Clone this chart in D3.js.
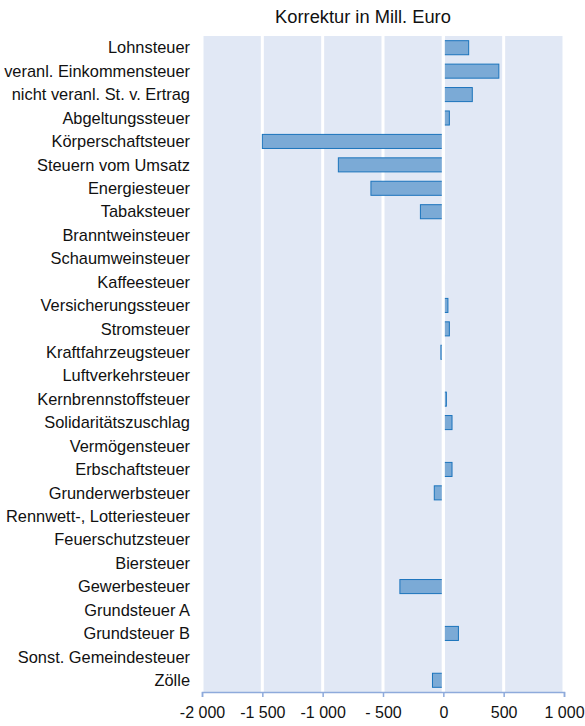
<!DOCTYPE html>
<html>
<head>
<meta charset="utf-8">
<script src="https://cdn.jsdelivr.net/npm/d3@7"></script>
<style>
  body { margin: 0; background: #fff; }
  text { font-family: "Liberation Sans", Arial, sans-serif; fill: #111; }
</style>
</head>
<body>
<script>
var categories = ["Lohnsteuer", "veranl. Einkommensteuer", "nicht veranl. St. v. Ertrag",
    "Abgeltungssteuer", "Körperschaftsteuer", "Steuern vom Umsatz", "Energiesteuer",
    "Tabaksteuer", "Branntweinsteuer", "Schaumweinsteuer", "Kaffeesteuer",
    "Versicherungssteuer", "Stromsteuer", "Kraftfahrzeugsteuer", "Luftverkehrsteuer",
    "Kernbrennstoffsteuer", "Solidaritätszuschlag", "Vermögensteuer", "Erbschaftsteuer",
    "Grunderwerbsteuer", "Rennwett-, Lotteriesteuer", "Feuerschutzsteuer", "Biersteuer",
    "Gewerbesteuer", "Grundsteuer A", "Grundsteuer B", "Sonst. Gemeindesteuer", "Zölle"];

var values = [210, 460, 240, 50, -1500, -870, -600, -190, 0, -4, 2,
    38, 50, -20, -6, 25, 72, 0, 72, -75, 0, 0, 0, -360, 0, 125, 0, -90];

var tickValues = [-2000, -1500, -1000, -500, 0, 500, 1000];
var tickLabels = ["-2 000", "-1 500", "-1 000", "- 500", "0", "500", "1 000"];

var width = 585,
    height = 726;

var svg = d3.select("body").append("svg")
    .attr("width", width)
    .attr("height", height);

var x = d3.scaleLinear()
    .domain([-2000, 1000])
    .range([202, 564]);

var y = d3.scaleBand()
    .domain(categories)
    .range([36, 692])
    .paddingInner(0.4)
    .paddingOuter(0.2);

// background
svg.append("rect")
    .attr("x", x(-2000))
    .attr("y", 36)
    .attr("width", x(1000) - x(-2000))
    .attr("height", 692 - 36)
    .attr("fill", "#e1e8f5");

// white grid lines
svg.selectAll(".grid")
    .data(tickValues)
    .enter().append("line")
    .attr("class", "grid")
    .attr("x1", function(d) { return x(d); })
    .attr("x2", function(d) { return x(d); })
    .attr("y1", 36)
    .attr("y2", 692)
    .attr("stroke", "#fff")
    .attr("stroke-width", 3);

// bars
svg.selectAll(".bar")
    .data(values)
    .enter().append("rect")
    .attr("class", "bar")
    .attr("x", function(d) { return x(Math.min(0, d)); })
    .attr("y", function(d, i) { return y(categories[i]); })
    .attr("width", function(d) { return Math.abs(x(d) - x(0)); })
    .attr("height", y.bandwidth())
    .attr("fill", "#7baad6")
    .attr("stroke", "#1b74bc")
    .attr("stroke-width", 1);

// zero line sits over the bar ends
svg.append("line")
    .attr("x1", x(0))
    .attr("x2", x(0))
    .attr("y1", 36)
    .attr("y2", 692)
    .attr("stroke", "#fff")
    .attr("stroke-width", 3);

// x axis
var xAxis = d3.axisBottom(x)
    .tickValues(tickValues)
    .tickSize(5)
    .tickPadding(10)
    .tickFormat(function(d, i) { return tickLabels[i]; });

var gx = svg.append("g")
    .attr("transform", "translate(0,692)")
    .call(xAxis);
gx.select(".domain").attr("stroke", "#8eaadb").attr("stroke-width", 1.5);
gx.selectAll(".tick line").attr("stroke", "#8eaadb").attr("stroke-width", 1.5);
gx.selectAll(".tick text")
    .style("font-size", "16px")
    .style("font-family", "'Liberation Sans', Arial, sans-serif")
    .attr("fill", "#111");

// category labels
svg.selectAll(".label")
    .data(categories)
    .enter().append("text")
    .attr("class", "label")
    .attr("x", 190)
    .attr("y", function(d) { return y(d) + y.bandwidth() / 2; })
    .attr("dy", "0.35em")
    .attr("text-anchor", "end")
    .style("font-size", "16.4px")
    .text(function(d) { return d; });

// title
svg.append("text")
    .attr("x", 363)
    .attr("y", 23)
    .attr("text-anchor", "middle")
    .style("font-size", "18.3px")
    .text("Korrektur in Mill. Euro");
</script>
</body>
</html>
